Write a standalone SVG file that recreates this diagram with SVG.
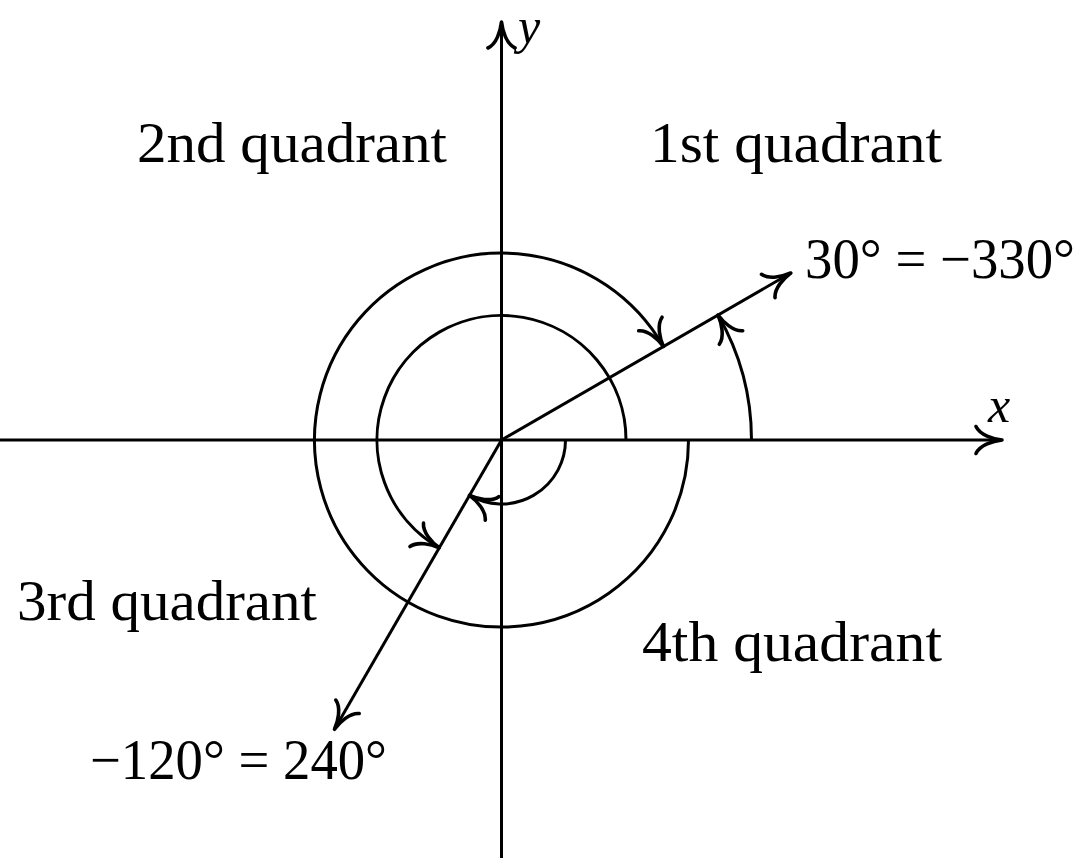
<svg xmlns="http://www.w3.org/2000/svg" width="1086" height="858" viewBox="0 0 1086 858">
<style>
.ln{fill:none;stroke:#000;stroke-width:3}
.t{font-family:"Liberation Serif","Times New Roman",serif;font-size:57px;fill:#000}
.it{font-family:"Liberation Serif","Times New Roman",serif;font-size:50px;font-style:italic;fill:#000}
</style>
<defs>
<marker id="ah" markerUnits="userSpaceOnUse" markerWidth="60" markerHeight="60" refX="0" refY="0" orient="auto" overflow="visible">
<path d="M -26 -13.5 C -22 -5 -9 -1 0 0 C -9 1 -22 5 -26 13.5" fill="none" stroke="#000" stroke-width="3.6" stroke-linecap="round" stroke-linejoin="round"/>
</marker>
</defs>
<rect width="1086" height="858" fill="#fff"/>
<g id="connectors">
<line id="x-axis" class="ln" x1="0" y1="440" x2="1002" y2="440" marker-end="url(#ah)"/>
<line id="y-axis" class="ln" x1="501.5" y1="858" x2="501.5" y2="22" marker-end="url(#ah)"/>
<line id="ray30" class="ln" x1="501.5" y1="440" x2="790.8" y2="273" marker-end="url(#ah)"/>
<line id="ray240" class="ln" x1="501.5" y1="440" x2="334.5" y2="729.3" marker-end="url(#ah)"/>
<path id="arc-m120" class="ln" d="M 565.5 440 A 64 64 0 0 1 469.5 495.4" marker-end="url(#ah)"/>
<path id="arc-240" class="ln" d="M 626 440 A 124.5 124.5 0 1 0 439.25 547.8" marker-end="url(#ah)"/>
<path id="arc-m330" class="ln" d="M 688.5 440 A 187 187 0 1 1 663.4 346.5" marker-end="url(#ah)"/>
<path id="arc-30" class="ln" d="M 751.5 440 A 250 250 0 0 0 718 315" marker-end="url(#ah)"/>
</g>
<g id="label-y"><text class="it" x="518" y="43" font-size="42">y</text></g>
<g id="label-x"><text class="it" x="988" y="422">x</text></g>
<g id="q2"><text class="t" x="137" y="162" textLength="310" lengthAdjust="spacingAndGlyphs">2nd quadrant</text></g>
<g id="q1"><text class="t" x="650" y="162" textLength="292" lengthAdjust="spacingAndGlyphs">1st quadrant</text></g>
<g id="q3"><text class="t" x="17" y="620" textLength="300" lengthAdjust="spacingAndGlyphs">3rd quadrant</text></g>
<g id="q4"><text class="t" x="642" y="661" textLength="300" lengthAdjust="spacingAndGlyphs">4th quadrant</text></g>
<g id="label-30"><text class="t" x="805" y="278" textLength="270" lengthAdjust="spacingAndGlyphs">30° = −330°</text></g>
<g id="label-m120"><text class="t" x="90" y="779" textLength="297" lengthAdjust="spacingAndGlyphs">−120° = 240°</text></g>
</svg>
